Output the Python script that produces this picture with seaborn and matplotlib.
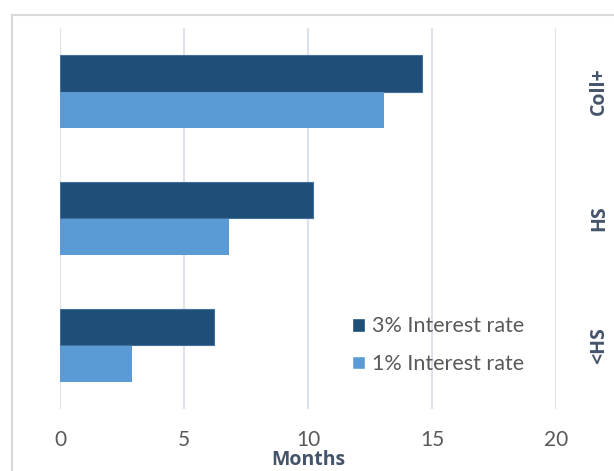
import matplotlib
matplotlib.use("Agg")
import matplotlib.pyplot as plt
import seaborn as sns
import pandas as pd
from matplotlib.patches import Rectangle

# values
categories = ["Coll+", "HS", "<HS"]
rate_3pct = [14.6, 10.2, 6.2]
rate_1pct = [13.05, 6.8, 2.9]
series_names = ["3% Interest rate", "1% Interest rate"]
x_ticks = [0, 5, 10, 15, 20]

df = pd.DataFrame({
    "education": categories * 2,
    "months": rate_3pct + rate_1pct,
    "series": [series_names[0]] * 3 + [series_names[1]] * 3,
})

sns.set_style("white")
plt.rcParams["font.family"] = ["Lato", "DejaVu Sans"]
text_color = "#595959"
label_color = "#44546A"
grid_color = "#dde3ea"
bold_font = ["Open Sans", "DejaVu Sans"]

fig = plt.figure(figsize=(6.14, 4.71), dpi=100)
W, H = 614, 471
ax = fig.add_axes([60 / W, 1 - 409 / H, (556 - 60) / W, (409 - 28) / H])

sns.barplot(data=df, x="months", y="education", hue="series",
            order=categories, hue_order=series_names,
            palette=["#1F4E79", "#5B9BD5"], orient="h",
            width=0.575, saturation=1, ax=ax)

# thin outline on the dark bars like the original, none on the light ones
for bar in ax.containers[0]:
    bar.set_edgecolor("#41719C")
    bar.set_linewidth(0.8)
for bar in ax.containers[1]:
    bar.set_linewidth(0)

ax.set_xlim(0, 20)
ax.set_xticks(x_ticks)
ax.set_xticklabels([str(t) for t in x_ticks], fontsize=15, color=text_color)
ax.tick_params(axis="x", length=0, pad=15)
ax.grid(axis="x", color=grid_color, linewidth=1.5)
ax.set_axisbelow(True)

ax.yaxis.tick_right()
ax.tick_params(axis="y", length=0, pad=31)
for lbl in ax.get_yticklabels():
    lbl.set_rotation(90)
    lbl.set_va("center")
    lbl.set_ha("center")
    lbl.set_fontsize(14)
    lbl.set_fontweight("bold")
    lbl.set_family(bold_font)
    lbl.set_color(label_color)

ax.set_ylabel("")
ax.set_xlabel("Months", fontsize=14, fontweight="bold", color=label_color,
              family=bold_font, labelpad=0)
for s in ax.spines.values():
    s.set_visible(False)

leg = ax.legend(loc="upper left", bbox_to_anchor=(0.549, 0.294), frameon=False,
                fontsize=15.5, handlelength=0.6, handleheight=0.6,
                handletextpad=0.35, labelspacing=0.83)
for t in leg.get_texts():
    t.set_color(text_color)

# outer chart border, cropped at the right and bottom
fig.patches.append(Rectangle((12 / W, -0.05), 1.1, 1 - 15 / H + 0.05,
                             transform=fig.transFigure, fill=False,
                             edgecolor="#d9d9d9", linewidth=1.5))

fig.savefig("out.png", dpi=100)
